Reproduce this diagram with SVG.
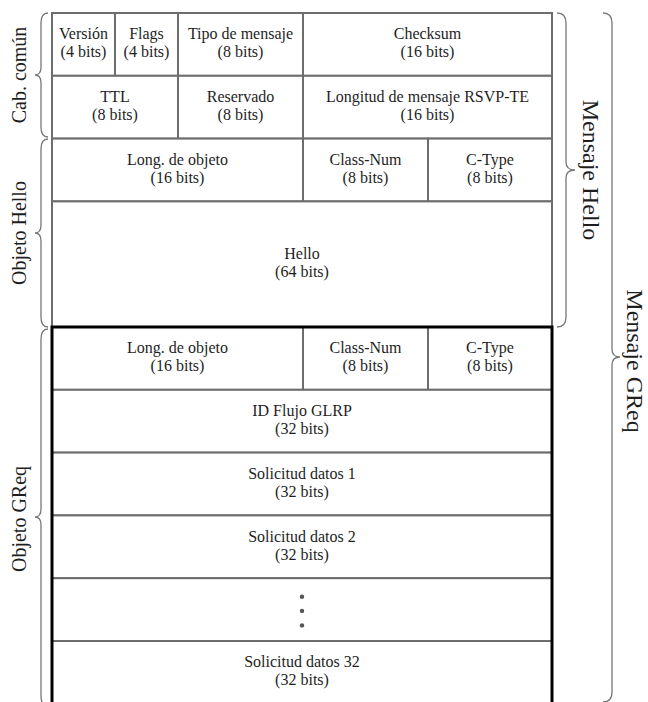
<svg xmlns="http://www.w3.org/2000/svg" width="648" height="702" viewBox="0 0 648 702">
  <style>
    .cell { fill: #ffffff; stroke: #6d6d6d; stroke-width: 2; }
    .t { font-family: "Liberation Serif", "Times New Roman", serif; font-size: 16px; fill: #1e1e1e; text-anchor: middle; }
    .lbl { font-family: "Liberation Serif", "Times New Roman", serif; font-size: 20px; fill: #1e1e1e; text-anchor: middle; }
    .big { font-family: "Liberation Serif", "Times New Roman", serif; font-size: 24px; fill: #1e1e1e; text-anchor: middle; }
    .brace { fill: none; stroke: #777777; stroke-width: 1.3; }
    .dot { fill: #555555; }
  </style>
  <rect width="648" height="702" fill="#ffffff"/>

  <!-- Common header: row 1 -->
  <g id="version"><rect class="cell" x="52" y="13" width="63" height="62.8"/>
    <text class="t" x="83.5" y="39">Versión</text><text class="t" x="83.5" y="57">(4 bits)</text></g>
  <g id="flags"><rect class="cell" x="115" y="13" width="63" height="62.8"/>
    <text class="t" x="146.5" y="39">Flags</text><text class="t" x="146.5" y="57">(4 bits)</text></g>
  <g id="tipo-mensaje"><rect class="cell" x="178" y="13" width="125" height="62.8"/>
    <text class="t" x="240.5" y="39">Tipo de mensaje</text><text class="t" x="240.5" y="57">(8 bits)</text></g>
  <g id="checksum"><rect class="cell" x="303" y="13" width="249" height="62.8"/>
    <text class="t" x="427.5" y="39">Checksum</text><text class="t" x="427.5" y="57">(16 bits)</text></g>

  <!-- Common header: row 2 -->
  <g id="ttl"><rect class="cell" x="52" y="75.8" width="126" height="62.8"/>
    <text class="t" x="115" y="102.2">TTL</text><text class="t" x="115" y="120.2">(8 bits)</text></g>
  <g id="reservado"><rect class="cell" x="178" y="75.8" width="125" height="62.8"/>
    <text class="t" x="240.5" y="102.2">Reservado</text><text class="t" x="240.5" y="120.2">(8 bits)</text></g>
  <g id="longitud-rsvp"><rect class="cell" x="303" y="75.8" width="249" height="62.8"/>
    <text class="t" x="427.5" y="102.2">Longitud de mensaje RSVP-TE</text><text class="t" x="427.5" y="120.2">(16 bits)</text></g>

  <!-- Hello object -->
  <g id="hello-long"><rect class="cell" x="52" y="138.6" width="251" height="62.8"/>
    <text class="t" x="177.5" y="165">Long. de objeto</text><text class="t" x="177.5" y="183">(16 bits)</text></g>
  <g id="hello-classnum"><rect class="cell" x="303" y="138.6" width="125" height="62.8"/>
    <text class="t" x="365.5" y="165">Class-Num</text><text class="t" x="365.5" y="183">(8 bits)</text></g>
  <g id="hello-ctype"><rect class="cell" x="428" y="138.6" width="124" height="62.8"/>
    <text class="t" x="490" y="165">C-Type</text><text class="t" x="490" y="183">(8 bits)</text></g>
  <g id="hello-data"><rect class="cell" x="52" y="201.4" width="500" height="125.6"/>
    <text class="t" x="302" y="259.2">Hello</text><text class="t" x="302" y="277.2">(64 bits)</text></g>

  <!-- GReq object -->
  <g id="greq-long"><rect class="cell" x="52" y="327" width="251" height="62.8"/>
    <text class="t" x="177.5" y="353.4">Long. de objeto</text><text class="t" x="177.5" y="371.4">(16 bits)</text></g>
  <g id="greq-classnum"><rect class="cell" x="303" y="327" width="125" height="62.8"/>
    <text class="t" x="365.5" y="353.4">Class-Num</text><text class="t" x="365.5" y="371.4">(8 bits)</text></g>
  <g id="greq-ctype"><rect class="cell" x="428" y="327" width="124" height="62.8"/>
    <text class="t" x="490" y="353.4">C-Type</text><text class="t" x="490" y="371.4">(8 bits)</text></g>
  <g id="id-flujo"><rect class="cell" x="52" y="389.8" width="500" height="62.8"/>
    <text class="t" x="302" y="416.2">ID Flujo GLRP</text><text class="t" x="302" y="434.2">(32 bits)</text></g>
  <g id="solicitud-1"><rect class="cell" x="52" y="452.6" width="500" height="62.8"/>
    <text class="t" x="302" y="479">Solicitud datos 1</text><text class="t" x="302" y="497">(32 bits)</text></g>
  <g id="solicitud-2"><rect class="cell" x="52" y="515.4" width="500" height="62.8"/>
    <text class="t" x="302" y="541.8">Solicitud datos 2</text><text class="t" x="302" y="559.8">(32 bits)</text></g>
  <g id="ellipsis"><rect class="cell" x="52" y="578.2" width="500" height="62.8"/>
    <circle class="dot" cx="302" cy="596.7" r="2.2"/><circle class="dot" cx="302" cy="610.9" r="2.2"/><circle class="dot" cx="302" cy="625.4" r="2.2"/></g>
  <g id="solicitud-32"><rect class="cell" x="52" y="641" width="500" height="66"/>
    <text class="t" x="302" y="667.4">Solicitud datos 32</text><text class="t" x="302" y="685.4">(32 bits)</text></g>

  <!-- heavy outline of the GReq object -->
  <path d="M52,710 V327 H552 V710" fill="none" stroke="#000000" stroke-width="3"/>

  <!-- braces and their labels -->
  <g id="braces">
    <path class="brace" d="M48,13 Q41,13 41,23 V67 Q41,75 35,75 Q41,75 41,83 V127 Q41,137 48,137"/>
    <path class="brace" d="M48,139 Q41,139 41,149 V225 Q41,233 35,233 Q41,233 41,241 V317 Q41,327 48,327"/>
    <path class="brace" d="M48,329 Q41,329 41,339 V509 Q41,517 35,517 Q41,517 41,525 V696 Q41,706 48,706"/>
    <path class="brace" d="M557,13 Q566,13 566,23 V162 Q566,170 575,170 Q566,170 566,178 V317 Q566,327 557,327"/>
    <path class="brace" d="M603,13 Q612,13 612,23 V349 Q612,357 620,357 Q612,357 612,365 V692 Q612,702 603,702"/>
  </g>
  <g id="labels">
    <text class="lbl" transform="translate(26,75) rotate(-90)">Cab. común</text>
    <text class="lbl" transform="translate(26,233) rotate(-90)">Objeto Hello</text>
    <text class="lbl" transform="translate(26,519) rotate(-90)">Objeto GReq</text>
    <text class="big" transform="translate(583,170) rotate(90)">Mensaje Hello</text>
    <text class="big" transform="translate(627,361) rotate(90)">Mensaje GReq</text>
  </g>
</svg>
